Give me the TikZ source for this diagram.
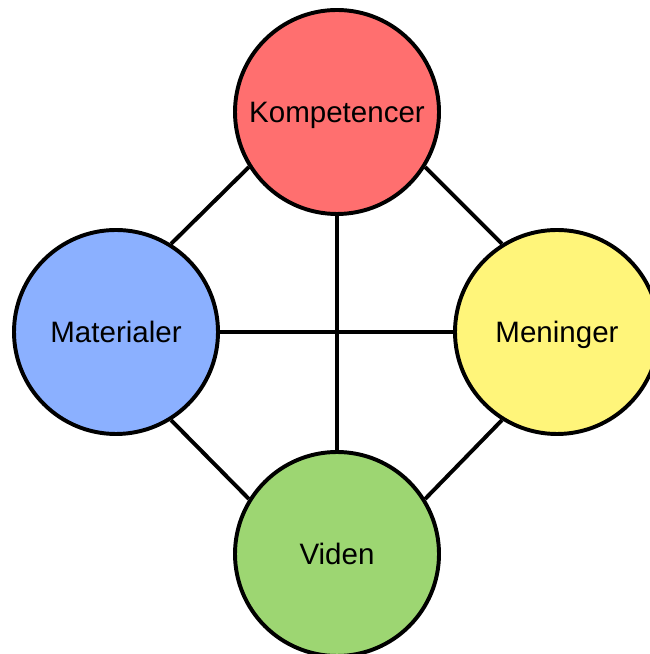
\documentclass[tikz,border=0pt]{standalone}
\usepackage{fontspec}
\setmainfont{Liberation Sans}
\usepackage{tikz}
\usetikzlibrary{calc}

\definecolor{kompred}{HTML}{FF6F6F}
\definecolor{matblue}{HTML}{8BB0FF}
\definecolor{menyellow}{HTML}{FFF57A}
\definecolor{vidgreen}{HTML}{9DD672}

\begin{document}
\begin{tikzpicture}[line width=2.8pt,
		felt/.style={circle,draw=black, minimum size=5.1cm, inner sep=0pt, text depth=0pt, font=\fontsize{21}{24}\selectfont}]
		\useasboundingbox (0,0) rectangle (16.225,16.35);

		% the four circles
		\node at (8.425,13.55) (komp) [felt, fill=kompred] {Kompetencer};
		\node at (2.9,8.05) (mat) [felt, fill=matblue] {Materialer};
		\node at (13.925,8.05) (men) [felt, fill=menyellow] {Meninger};
		\node at (8.425,2.5) (vid) [felt, fill=vidgreen] {Viden};

		% outer connections, shifted outwards
		\draw (komp.212) -- (mat.58);
		\draw (komp.328) -- (men.122);
		\draw (mat.302) -- (vid.148);
		\draw (men.238) -- (vid.32);

		% the cross
		\draw (mat) -- (men);
		\draw (komp) -- (vid);

	\end{tikzpicture}
\end{document}
